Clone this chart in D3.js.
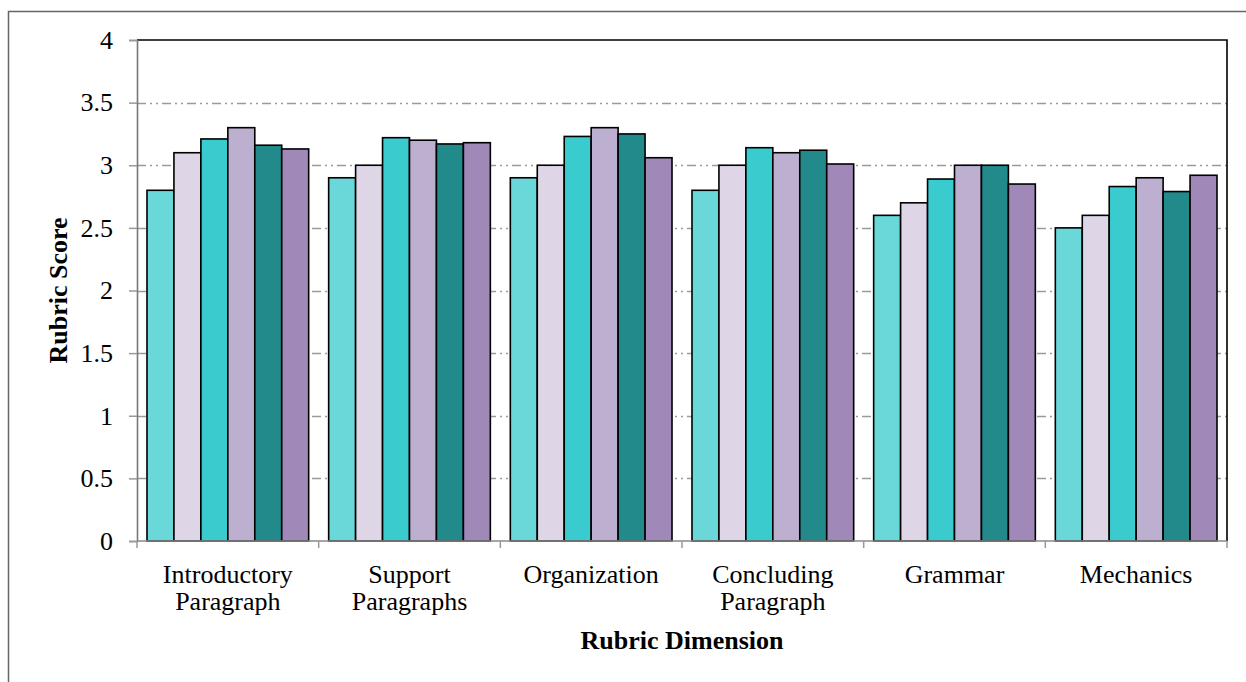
<!DOCTYPE html>
<html>
<head>
<meta charset="utf-8">
<script src="https://cdn.jsdelivr.net/npm/d3@7"></script>
<style>
  html, body { margin: 0; padding: 0; background: #fff; }
  svg { display: block; font-family: "Liberation Serif", "Times New Roman", serif; }
</style>
</head>
<body>
<svg id="chart" width="1246" height="682"></svg>
<script>
// Rubric dimensions (x categories), each label split into lines
const categories = [
  ["Introductory", "Paragraph"],
  ["Support", "Paragraphs"],
  ["Organization"],
  ["Concluding", "Paragraph"],
  ["Grammar"],
  ["Mechanics"]
];

// Six score series per dimension
const series1 = [2.80, 2.90, 2.90, 2.80, 2.60, 2.50];
const series2 = [3.10, 3.00, 3.00, 3.00, 2.70, 2.60];
const series3 = [3.21, 3.22, 3.23, 3.14, 2.89, 2.83];
const series4 = [3.30, 3.20, 3.30, 3.10, 3.00, 2.90];
const series5 = [3.16, 3.17, 3.25, 3.12, 3.00, 2.79];
const series6 = [3.13, 3.18, 3.06, 3.01, 2.85, 2.92];
const allSeries = [series1, series2, series3, series4, series5, series6];

const colors = ["#6ad8d9", "#ded6e6", "#3acbcf", "#bdafd0", "#238a8b", "#a088b8"];

const yTicks = [0, 0.5, 1, 1.5, 2, 2.5, 3, 3.5, 4];

const svg = d3.select("#chart");
const plot = { left: 137, right: 1227, top: 40, bottom: 541 };

// outer chart frame
svg.append("path")
  .attr("d", "M8.5,690 L8.5,11.5 L1260,11.5")
  .attr("fill", "none")
  .attr("stroke", "#666")
  .attr("stroke-width", 1.5);

const x0 = d3.scaleBand()
  .domain(d3.range(categories.length))
  .range([plot.left, plot.right])
  .paddingInner(0.11)
  .paddingOuter(0.055);

const x1 = d3.scaleBand()
  .domain(d3.range(allSeries.length))
  .range([0, x0.bandwidth()]);

const y = d3.scaleLinear().domain([0, 4]).range([plot.bottom, plot.top]);

// dash-dot-dot gridlines
svg.append("g")
  .selectAll("line")
  .data(yTicks.filter(t => t > 0 && t < 4))
  .join("line")
  .attr("x1", plot.left)
  .attr("x2", plot.right)
  .attr("y1", d => Math.round(y(d)) + 0.5)
  .attr("y2", d => Math.round(y(d)) + 0.5)
  .attr("stroke", "#9a9a9a")
  .attr("stroke-width", 1.5)
  .attr("stroke-dasharray", "9,4,2,4,2,4");

// bars
const groups = svg.append("g")
  .selectAll("g")
  .data(categories.map((c, i) => i))
  .join("g")
  .attr("transform", i => `translate(${x0(i)},0)`);

groups.selectAll("rect")
  .data(i => allSeries.map((s, k) => ({ k, v: s[i] })))
  .join("rect")
  .attr("x", d => x1(d.k))
  .attr("width", x1.bandwidth())
  .attr("y", d => y(d.v))
  .attr("height", d => y(0) - y(d.v))
  .attr("fill", d => colors[d.k])
  .attr("stroke", "#000")
  .attr("stroke-width", 1.6);

// plot area top and right edges
svg.append("path")
  .attr("d", `M${plot.left},${plot.top} L${plot.right},${plot.top} L${plot.right},${plot.bottom}`)
  .attr("fill", "none")
  .attr("stroke", "#000")
  .attr("stroke-width", 1.6);

// y axis
const yAxis = d3.axisLeft(y)
  .tickValues(yTicks)
  .tickFormat(d3.format("~g"))
  .tickSize(8)
  .tickPadding(16);

const gy = svg.append("g")
  .attr("transform", `translate(${plot.left},0)`)
  .call(yAxis);
gy.select(".domain").attr("stroke", "#777").attr("stroke-width", 1.6);
gy.selectAll(".tick line").attr("stroke", "#999").attr("stroke-width", 1.5);
gy.selectAll(".tick text")
  .attr("fill", "#000")
  .style("font-family", "'Liberation Serif', serif")
  .style("font-size", "26px");

// x axis line with ticks at category boundaries
const boundaries = d3.range(categories.length + 1).map(i =>
  plot.left + i * (plot.right - plot.left) / categories.length);
svg.append("line")
  .attr("x1", plot.left).attr("x2", plot.right)
  .attr("y1", plot.bottom).attr("y2", plot.bottom)
  .attr("stroke", "#888").attr("stroke-width", 1.6);
svg.append("g")
  .selectAll("line")
  .data(boundaries)
  .join("line")
  .attr("x1", d => d).attr("x2", d => d)
  .attr("y1", plot.bottom).attr("y2", plot.bottom + 7)
  .attr("stroke", "#999").attr("stroke-width", 1.5);

// category labels
svg.append("g")
  .selectAll("text")
  .data(categories)
  .join("text")
  .attr("x", (c, i) => x0(i) + x0.bandwidth() / 2)
  .attr("y", 583)
  .attr("text-anchor", "middle")
  .style("font-size", "26px")
  .attr("fill", "#000")
  .selectAll("tspan")
  .data(c => c)
  .join("tspan")
  .attr("x", function () { return d3.select(this.parentNode).attr("x"); })
  .attr("dy", (d, j) => j === 0 ? 0 : 27)
  .text(d => d);

// axis titles
svg.append("text")
  .attr("x", (plot.left + plot.right) / 2)
  .attr("y", 649)
  .attr("text-anchor", "middle")
  .style("font-size", "26px")
  .style("font-weight", "bold")
  .text("Rubric Dimension");

svg.append("text")
  .attr("transform", `translate(67,${(plot.top + plot.bottom) / 2}) rotate(-90)`)
  .attr("text-anchor", "middle")
  .style("font-size", "26px")
  .style("font-weight", "bold")
  .text("Rubric Score");
</script>
</body>
</html>
